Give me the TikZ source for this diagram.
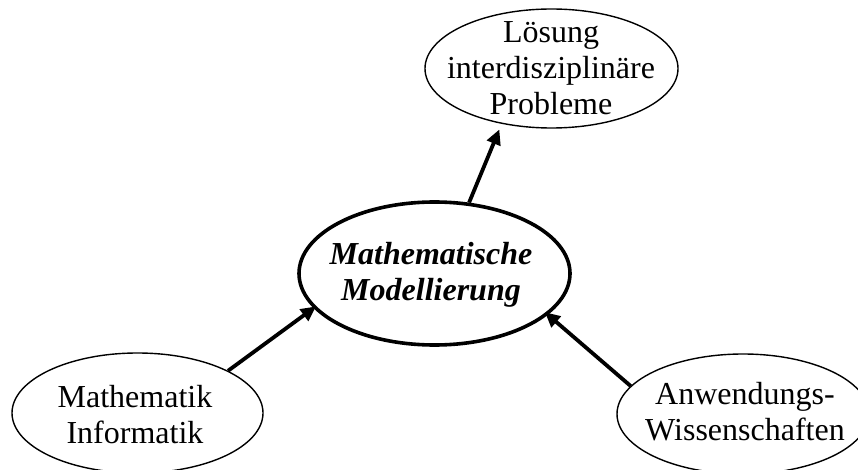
\documentclass[tikz,border=0pt]{standalone}
\usepackage{fontspec}
\setmainfont{Liberation Serif}
\usetikzlibrary{shapes.geometric,arrows.meta}
\begin{document}
\begin{tikzpicture}[x=1pt,y=-1pt,
  oval/.style={draw=black,ellipse,inner sep=0pt,line width=1.4pt},
  mainoval/.style={oval,line width=3.6pt},
  lbl/.style={align=center,anchor=base,inner sep=0pt,font=\fontsize{32}{36}\selectfont},
  arr/.style={line width=3.8pt,-{Triangle[length=15pt,width=14pt]}}]
\useasboundingbox (0,0) rectangle (858,470);
\clip (0,0) rectangle (858,470);
\node[mainoval,minimum width=271pt,minimum height=143pt] (mm) at (434.5,273.5) {};
\node[oval,minimum width=253pt,minimum height=119pt] (lp) at (551.5,68.5) {};
\node[oval,minimum width=251pt,minimum height=120pt] (mi) at (137.5,413) {};
\node[oval,minimum width=252pt,minimum height=120pt] (aw) at (743,414) {};
\node[lbl,font=\fontsize{32}{36}\selectfont\bfseries\itshape] (mmt) at (431,300) {Mathematische\\Modellierung};
\node[lbl] (lpt) at (551,115) {Lösung\\interdisziplinäre\\Probleme};
\node[lbl] (mit) at (135,443) {Mathematik\\Informatik};
\node[lbl] (awt) at (745,440) {Anwendungs-\\Wissenschaften};
\draw[arr,shorten >=6pt] (mm.64) -- (lp.228);
\draw[arr,shorten >=-3pt] (mi.25) -- (mm.196);
\draw[arr,shorten >=-4pt] (aw.166) -- (mm.340);
\end{tikzpicture}
\end{document}
